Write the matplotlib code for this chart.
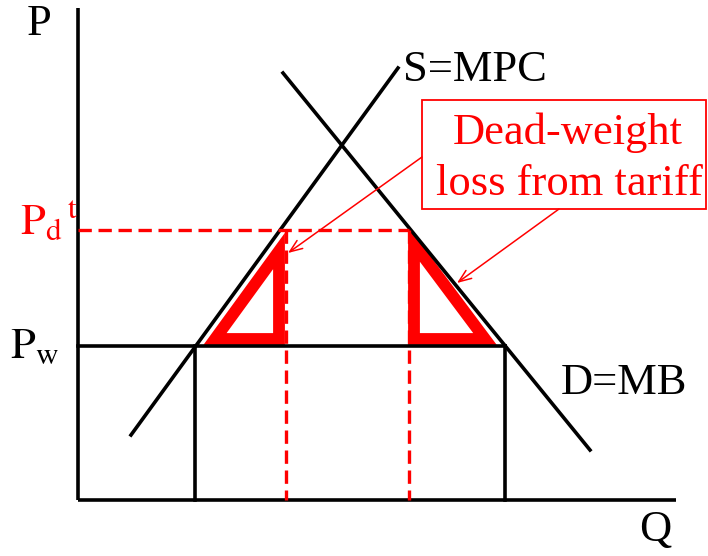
import matplotlib
matplotlib.use('Agg')
import matplotlib.pyplot as plt
from matplotlib.patches import Polygon, Rectangle

plt.rcParams['font.family'] = ['Liberation Serif', 'DejaVu Serif']
plt.rcParams['mathtext.fontset'] = 'stix'

# positions in picture units (x to the right, y downward)
axis_x = 78
axis_top = 8
axis_bottom = 500
axis_right = 676

supply_x = [131, 398]
supply_y = [435, 68]
demand_x = [283, 590]
demand_y = [73, 450]

p_world = 346
p_tariff = 230
q_world = [195, 505]     # supply / demand quantity at world price
q_tariff = [286, 409]    # supply / demand quantity with tariff

tri_left_x = [215, 279, 279]
tri_left_y = [339, 251, 339]
tri_right_x = [414, 414, 485]
tri_right_y = [244, 339, 339]

red = '#ff0000'

fig = plt.figure(figsize=(7.08, 5.56), dpi=100)
ax = fig.add_axes([0, 0, 1, 1])
ax.set_xlim(0, 708)
ax.set_ylim(556, 0)
ax.axis('off')

lw = 2.6
# axes
ax.plot([axis_x, axis_x], [axis_top, axis_bottom], color='black', lw=lw, solid_capstyle='butt')
ax.plot([axis_x, axis_right], [axis_bottom, axis_bottom], color='black', lw=lw, solid_capstyle='butt')

# dead-weight loss triangles (under the black lines)
ax.add_patch(Polygon(list(zip(tri_left_x, tri_left_y)), closed=True, fill=False,
                     edgecolor=red, lw=8.5, joinstyle='miter'))
ax.add_patch(Polygon(list(zip(tri_right_x, tri_right_y)), closed=True, fill=False,
                     edgecolor=red, lw=8.5, joinstyle='miter'))

# supply and demand
ax.plot(supply_x, supply_y, color='black', lw=lw)
ax.plot(demand_x, demand_y, color='black', lw=lw)

# world price and quantities
ax.plot([axis_x, q_world[1]], [p_world, p_world], color='black', lw=lw)
for q in q_world:
    ax.plot([q, q], [p_world, axis_bottom], color='black', lw=lw)

# tariff price, dashed
ax.plot([axis_x, q_tariff[1]], [p_tariff, p_tariff], color=red, lw=2.4, ls=(0, (4, 2)))
for q in q_tariff:
    ax.plot([q, q], [p_tariff, axis_bottom], color=red, lw=2.4, ls=(0, (4, 2)))

# callout box
ax.add_patch(Rectangle((422, 100), 284, 109, fill=False, edgecolor=red, lw=1.3))
ax.text(568, 133, 'Dead-weight', color=red, fontsize=32, ha='center', va='center')
ax.text(569, 184, 'loss from tariff', color=red, fontsize=32, ha='center', va='center')

arrow = dict(arrowstyle='->,head_length=0.9,head_width=0.35', color=red, lw=1.1,
             shrinkA=0, shrinkB=0)
ax.annotate('', xy=(288, 253), xytext=(422, 157), arrowprops=arrow)
ax.annotate('', xy=(457, 283), xytext=(559, 209), arrowprops=arrow)

# labels
fs = 32
ax.text(39, 24, 'P', fontsize=fs, ha='center', va='center')
ax.text(655, 530, 'Q', fontsize=fs, ha='center', va='center')
ax.text(475, 70, 'S=MPC', fontsize=fs, ha='center', va='center')
ax.text(624, 383, 'D=MB', fontsize=fs, ha='center', va='center')
ax.text(10, 347, r'$\mathrm{P_w}$', fontsize=fs, ha='left', va='center')
ax.text(20, 222, r'$\mathrm{P_d}^{\mathrm{\,t}}$', fontsize=fs, ha='left', va='center', color=red)

fig.savefig('out.png', dpi=100)
